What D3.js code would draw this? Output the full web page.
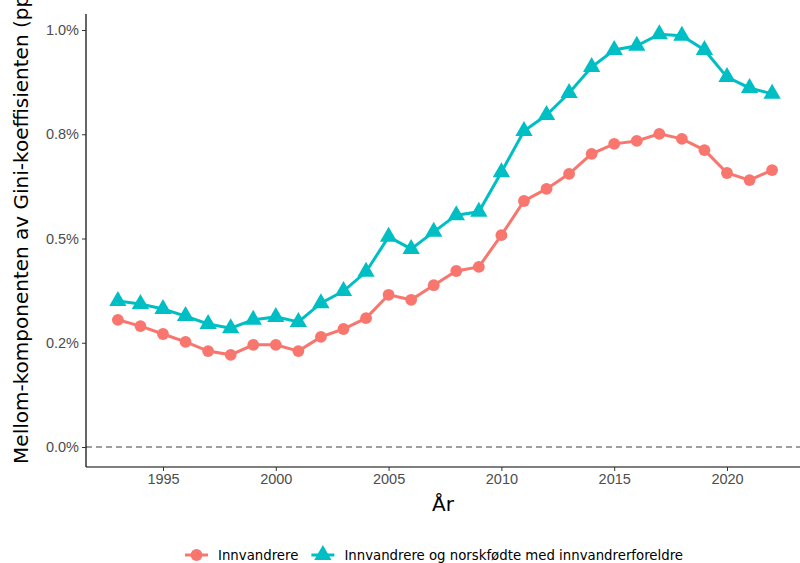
<!DOCTYPE html>
<html><head><meta charset="utf-8">
<script src="https://cdn.jsdelivr.net/npm/d3@7"></script>
<style>body{margin:0;background:#fff}svg{font-family:"DejaVu Sans",sans-serif}</style>
</head><body><svg id="c" width="800" height="563"></svg>
<script>
const years = d3.range(1993, 2023);
const innvandrere = [0.305,0.290,0.271,0.252,0.230,0.221,0.245,0.245,0.230,0.264,0.283,0.309,0.365,0.353,0.388,0.422,0.432,0.508,0.590,0.619,0.655,0.703,0.727,0.734,0.751,0.739,0.712,0.657,0.640,0.664];
const medEtterkommere = [0.350,0.343,0.331,0.314,0.295,0.285,0.305,0.312,0.300,0.345,0.374,0.420,0.504,0.475,0.516,0.556,0.564,0.659,0.758,0.796,0.849,0.911,0.952,0.962,0.990,0.986,0.952,0.887,0.861,0.847];
const yTicks = [0, 0.25, 0.5, 0.75, 1.0];
const yTickLabels = ["0.0%", "0.2%", "0.5%", "0.8%", "1.0%"];
const xTicks = [1995, 2000, 2005, 2010, 2015, 2020];

const svg = d3.select('#c');
const L = 86, R = 800, T = 14, B = 467;
const x = d3.scaleLinear().domain([1995, 2020]).range([163, 727]);
const y = d3.scaleLinear().domain([0, 1]).range([447, 30]);

// zero reference line
svg.append('line').attr('x1', L).attr('x2', R).attr('y1', y(0)).attr('y2', y(0))
  .attr('stroke', '#808080').attr('stroke-width', 1.3).attr('stroke-dasharray', '6,4');

const xAxis = svg.append('g').attr('transform', `translate(0,${B})`)
  .call(d3.axisBottom(x).tickValues(xTicks).tickFormat(d3.format('d')).tickSizeOuter(0).tickSize(4));
xAxis.select('.domain').attr('d', `M${L},0H${R}`);
const yAxis = svg.append('g').attr('transform', `translate(${L},0)`)
  .call(d3.axisLeft(y).tickValues(yTicks).tickFormat((d, i) => yTickLabels[i]).tickSizeOuter(0).tickSize(4));
yAxis.select('.domain').attr('d', `M0,${T}V${B}`);
svg.selectAll('.tick text').attr('font-size', 14.5).attr('fill', '#4d4d4d');
svg.selectAll('.tick line').attr('stroke', '#333');
svg.selectAll('.domain').attr('stroke', '#000').attr('stroke-width', 1.2);

const series = [
  {name: 'Innvandrere', vals: innvandrere, color: '#F8766D', shape: d3.symbolCircle},
  {name: 'Innvandrere og norskfødte med innvandrerforeldre', vals: medEtterkommere, color: '#00BFC4', shape: d3.symbolTriangle}
];
const line = d3.line().x((d, i) => x(years[i])).y(d => y(d));
series.forEach(s => {
  svg.append('path').datum(s.vals).attr('d', line).attr('fill', 'none')
    .attr('stroke', s.color).attr('stroke-width', 3);
  svg.selectAll(null).data(s.vals).enter().append('path')
    .attr('d', d3.symbol().type(s.shape).size(s.shape === d3.symbolCircle ? 110 : 130))
    .attr('transform', (d, i) => `translate(${x(years[i])},${y(d)})`)
    .attr('fill', s.color);
});

svg.append('text').attr('x', (L + R) / 2).attr('y', 511).attr('text-anchor', 'middle')
  .attr('font-size', 20).text('År');
svg.append('text').attr('transform', `translate(28,${(T + B) / 2 - 15}) rotate(-90)`)
  .attr('text-anchor', 'middle').attr('font-size', 20)
  .text('Mellom-komponenten av Gini-koeffisienten (pp)');

// legend
const lg = svg.append('g').attr('transform', 'translate(0,555)');
let lx = 185;
series.forEach(s => {
  lg.append('line').attr('x1', lx).attr('x2', lx + 23).attr('stroke', s.color).attr('stroke-width', 3);
  lg.append('path').attr('d', d3.symbol().type(s.shape).size(s.shape === d3.symbolCircle ? 110 : 130))
    .attr('transform', `translate(${lx + 11.5},0)`).attr('fill', s.color);
  const t = lg.append('text').attr('x', lx + 33).attr('y', 5).attr('font-size', 13.3).text(s.name);
  lx += 33 + t.node().getComputedTextLength() + 13;
});
</script></body></html>
